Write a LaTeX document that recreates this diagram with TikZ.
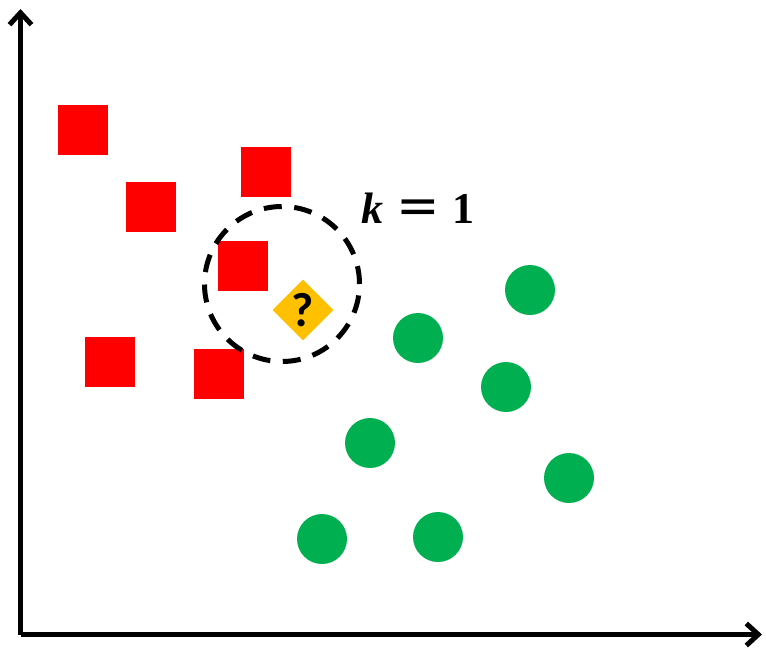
\documentclass[tikz,border=0pt]{standalone}
\usepackage{fontspec}
\usetikzlibrary{arrows.meta,shapes.geometric}
\newfontfamily\qfont{Carlito}
\newfontfamily\kfont{Liberation Serif}
\newfontfamily\eqfont{DejaVu Sans}
\definecolor{sqred}{HTML}{FF0000}
\definecolor{dotgreen}{HTML}{00B050}
\definecolor{qyellow}{HTML}{FFC000}
\begin{document}
\begin{tikzpicture}[x=1pt,y=-1pt,
  axis/.style={line width=5pt,-{Straight Barb[length=12pt,width=22pt,line width=5pt]}},
  redsq/.style={fill=sqred,draw=none,minimum size=50pt,inner sep=0pt,rectangle},
  greendot/.style={fill=dotgreen,draw=none,circle,minimum size=50pt,inner sep=0pt},
  query/.style={fill=qyellow,draw=none,diamond,minimum size=61pt,inner sep=0pt},
  nbhdring/.style={draw=black,line width=5pt,dash pattern=on 18pt off 12.5pt,circle,minimum size=155pt,inner sep=0pt},
  bigtext/.style={font=\kfont\fontsize{44}{44}\selectfont\bfseries}]
\useasboundingbox (0,0) rectangle (766,648);
% axes
\coordinate (origin) at (20.5,634.5);
\coordinate (ytop) at (20.5,9);
\coordinate (xend) at (762,634.5);
\draw[axis] (origin) -- (ytop);
\draw[axis] (origin) -- (xend);
% class A: squares
\node[redsq] (s1) at (83,130) {};
\node[redsq] (s2) at (151,207) {};
\node[redsq] (s3) at (266,172) {};
\node[redsq] (s4) at (243,266) {};
\node[redsq] (s5) at (110,362) {};
\node[redsq] (s6) at (219,374) {};
% class B: circles
\node[greendot] (c1) at (530,290) {};
\node[greendot] (c2) at (418,338) {};
\node[greendot] (c3) at (506,387) {};
\node[greendot] (c4) at (370,443) {};
\node[greendot] (c5) at (569,478) {};
\node[greendot] (c6) at (322,539) {};
\node[greendot] (c7) at (438,537) {};
% neighbourhood and query point
\node[nbhdring] (nbhd) at (282,284) {};
\node[query] (q) at (303,310) {};
\node[font=\qfont\bfseries\fontsize{48}{48}\selectfont] (qmark) at (q) {?};
\node[bigtext] (klabel) at (418,208) {\itshape k\upshape\hspace{13pt}{\eqfont\mdseries\fontsize{52}{52}\selectfont =}\hspace{13pt}1};
\end{tikzpicture}
\end{document}
